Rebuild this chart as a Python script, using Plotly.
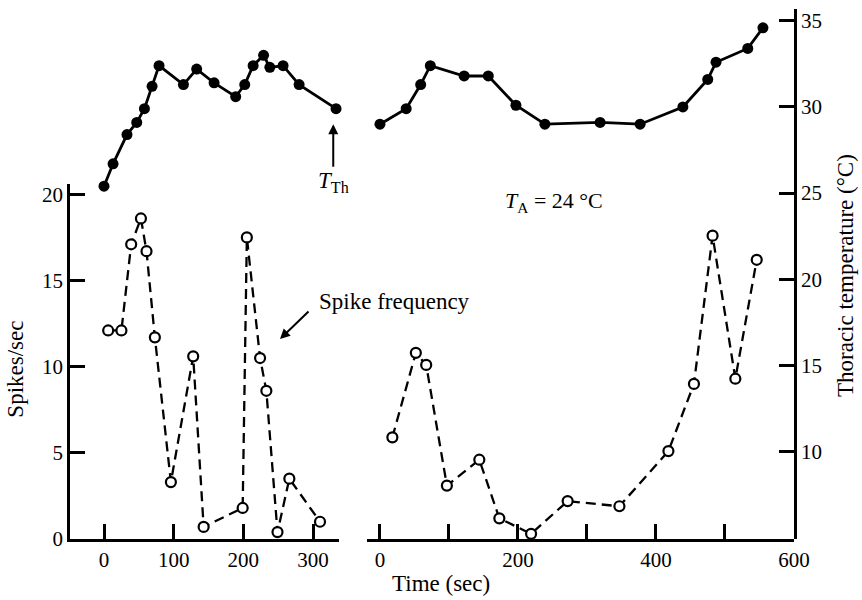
import plotly.graph_objects as go

# First recording (left panel): time in s, spike rate and thoracic temperature
spike_left_t = [6, 25, 39, 53, 61, 73, 96, 128, 143, 199, 205, 224, 233, 249, 266, 310]
spike_left = [12.1, 12.1, 17.1, 18.6, 16.7, 11.7, 3.3, 10.6, 0.7, 1.8, 17.5, 10.5, 8.6, 0.4, 3.5, 1.0]
temp_left_t = [0, 13, 33, 47, 58, 69, 79, 114, 133, 158, 189, 202, 214, 229, 238, 257, 280, 333]
temp_left = [25.4, 26.7, 28.4, 29.1, 29.9, 31.2, 32.4, 31.3, 32.2, 31.4, 30.6, 31.3, 32.4, 33.0,
             32.3, 32.4, 31.3, 29.9]

# Second recording (right panel)
spike_right_t = [18, 52, 67, 97, 144, 173, 219, 272, 347, 418, 455, 482, 515, 546]
spike_right = [5.9, 10.8, 10.1, 3.1, 4.6, 1.2, 0.3, 2.2, 1.9, 5.1, 9.0, 17.6, 9.3, 16.2]
temp_right_t = [0, 38, 59, 73, 122, 157, 197, 239, 319, 377, 439, 475, 487, 533, 555]
temp_right = [29.0, 29.9, 31.3, 32.4, 31.8, 31.8, 30.1, 29.0, 29.1, 29.0, 30.0, 31.6, 32.6, 33.4, 34.6]

left_ticks = [0, 100, 200, 300]
right_ticks = [0, 100, 200, 300, 400, 500, 600]
right_ticktext = ["0", "", "200", "", "400", "", "600"]
spike_ticks = [0, 5, 10, 15, 20]
temp_ticks = [10, 15, 20, 25, 30, 35]

FONT = "Liberation Serif"
INK = "black"

spike_style = dict(
    mode="lines+markers",
    line=dict(color=INK, width=2.3, dash="10px,6px"),
    marker=dict(symbol="circle", size=10, color="white", line=dict(color=INK, width=2.2)),
    cliponaxis=False, showlegend=False, hoverinfo="skip",
)
temp_style = dict(
    mode="lines+markers",
    line=dict(color=INK, width=2.8),
    marker=dict(symbol="circle", size=11, color=INK),
    cliponaxis=False, showlegend=False, hoverinfo="skip",
)

fig = go.Figure()
fig.add_trace(go.Scatter(x=spike_left_t, y=spike_left, xaxis="x", yaxis="y", **spike_style))
fig.add_trace(go.Scatter(x=temp_left_t, y=temp_left, xaxis="x", yaxis="y2", **temp_style))
fig.add_trace(go.Scatter(x=spike_right_t, y=spike_right, xaxis="x2", yaxis="y", **spike_style))
fig.add_trace(go.Scatter(x=temp_right_t, y=temp_right, xaxis="x2", yaxis="y2", **temp_style))

axis_common = dict(
    showgrid=False, zeroline=False, showline=True, linecolor=INK, linewidth=2.5,
    ticks="inside", ticklen=15, tickwidth=2.5, tickcolor=INK,
    tickfont=dict(family=FONT, size=21, color=INK),
)

fig.update_layout(
    width=862, height=600,
    margin=dict(l=70, r=68, t=7, b=61),
    paper_bgcolor="white", plot_bgcolor="rgba(0,0,0,0)",
    font=dict(family=FONT, color=INK),
    xaxis=dict(domain=[0, 0.3713], range=[-48.8, 337], anchor="y",
               tickmode="array", tickvals=left_ticks, **axis_common),
    xaxis2=dict(domain=[0.4102, 1], range=[-18.8, 600], anchor="y",
                tickmode="array", tickvals=right_ticks, ticktext=right_ticktext, **axis_common),
    yaxis=dict(domain=[0, 0.6692], range=[0, 20.58], anchor="x", side="left",
               tickmode="array", tickvals=spike_ticks, **axis_common),
    yaxis2=dict(domain=[0, 1], range=[4.91, 35.69], anchor="x2", side="right",
                tickmode="array", tickvals=temp_ticks, **axis_common),
)

label_font = dict(family=FONT, size=23, color=INK)
fig.add_annotation(text="Time (sec)", xref="paper", yref="paper", x=0.5124, y=-0.0846,
                   showarrow=False, font=label_font, xanchor="center", yanchor="middle")
fig.add_annotation(text="Spikes/sec", xref="paper", yref="paper", x=-0.0746, y=0.3214,
                   showarrow=False, font=label_font, textangle=-90,
                   xanchor="center", yanchor="middle")
fig.add_annotation(text="Thoracic temperature (°C)", xref="paper", yref="paper", x=1.0704, y=0.498,
                   showarrow=False, font=label_font, textangle=-90,
                   xanchor="center", yanchor="middle")

# Thoracic temperature marker label with upward arrow
fig.add_annotation(text="<i>T</i><sub>Th</sub>", xref="x", yref="y2", x=329, y=29.0,
                   showarrow=True, ax=0, ay=58, arrowhead=2, arrowsize=1, arrowwidth=2,
                   arrowcolor=INK, standoff=0, font=label_font)
# Spike-frequency label and its arrow
fig.add_annotation(text="Spike frequency", xref="x", yref="y", x=306, y=13.8,
                   showarrow=False, font=label_font, xanchor="left", yanchor="middle")
fig.add_annotation(text="", xref="x", yref="y", x=252.6, y=11.6,
                   showarrow=True, ax=30, ay=-29, arrowhead=2, arrowsize=1, arrowwidth=2,
                   arrowcolor=INK, standoff=0)
# Ambient temperature
fig.add_annotation(text="<i>T</i><sub>A</sub> = 24 °C", xref="x2", yref="y2", x=252, y=24.5,
                   showarrow=False, font=dict(family=FONT, size=22, color=INK),
                   xanchor="center", yanchor="middle")

fig.write_html("out.html")
